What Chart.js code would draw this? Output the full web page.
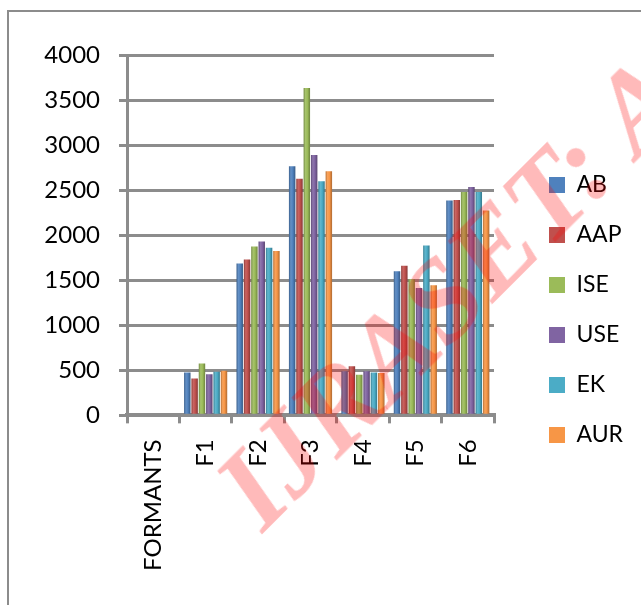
<!DOCTYPE html>
<html>
<head>
<meta charset="utf-8">
<script src="https://cdn.jsdelivr.net/npm/chart.js@4.4.1/dist/chart.umd.min.js"></script>
<style>
  html, body { margin: 0; padding: 0; background: #fff; overflow: hidden; }
  #wrap { position: relative; width: 641px; height: 605px; overflow: hidden; }
  #frame { position: absolute; left: 7px; top: 10px; width: 800px; height: 800px; border: 2px solid #8c8c8c; box-sizing: border-box; }
  #chart { position: absolute; left: 0; top: 0; }
  #mark {
    position: absolute; left: 262px; top: 436px;
    font: italic bold 117px/117px "Liberation Serif", serif;
    color: rgba(255, 0, 0, 0.27);
    transform: rotate(-45deg); transform-origin: 0 97px;
    white-space: nowrap; pointer-events: none;
  }
</style>
</head>
<body>
<div id="wrap">
  <div id="frame"></div>
  <canvas id="chart" width="641" height="605"></canvas>
  <div id="mark">IJRASET: All Rights</div>
</div>
<script>
// formant values (Hz); FORMANTS column is empty
const categories = ["FORMANTS", "F1", "F2", "F3", "F4", "F5", "F6"];
const AB  = [0, 475, 1685, 2765, 490, 1600, 2385];
const AAP = [0, 410, 1730, 2625, 545, 1660, 2390];
const ISE = [0, 575, 1875, 3635, 450, 1510, 2480];
const USE = [0, 455, 1930, 2890, 490, 1415, 2535];
const EK  = [0, 485, 1860, 2600, 475, 1885, 2480];
const AUR = [0, 495, 1825, 2710, 470, 1445, 2275];
const yTicks = [0, 500, 1000, 1500, 2000, 2500, 3000, 3500, 4000];

const names = ["AB", "AAP", "ISE", "USE", "EK", "AUR"];
const values = [AB, AAP, ISE, USE, EK, AUR];
const colors = ["#4f81bd", "#c0504d", "#9bbb59", "#8064a2", "#4bacc6", "#f79646"];

const font = "Lato, 'Open Sans', sans-serif";
const CAT_PCT = 0.84, BAR_PCT = 0.88;

function shade(hex, f) {
  const n = parseInt(hex.slice(1), 16);
  const ch = [(n >> 16) & 255, (n >> 8) & 255, n & 255].map((c) =>
    Math.round(f < 0 ? c * (1 + f) : c + (255 - c) * f)
  );
  return `rgb(${ch.join(",")})`;
}

// cylinder-ish shading, computed from the x scale so the bars stay library-placed
function barFill(color) {
  return (ctx) => {
    const xs = ctx.chart.scales.x;
    if (!xs || !xs.width || ctx.type !== "data") return color;
    const n = ctx.chart.data.datasets.length;
    const cat = xs.width / categories.length;
    const slot = (cat * CAT_PCT) / n;
    const cx = xs.getPixelForValue(ctx.dataIndex) - (cat * CAT_PCT) / 2 + slot * (ctx.datasetIndex + 0.5);
    const w = slot * BAR_PCT;
    const g = ctx.chart.ctx.createLinearGradient(cx - w / 2, 0, cx + w / 2, 0);
    g.addColorStop(0, shade(color, -0.25));
    g.addColorStop(0.3, shade(color, 0.12));
    g.addColorStop(0.6, color);
    g.addColorStop(1, shade(color, -0.3));
    return g;
  };
}

// keep the plot area at the reference width and push the legend to its column
const legendPlace = {
  id: "legendPlace",
  beforeLayout(chart) {
    const lg = chart.legend;
    if (lg && !lg._fixed) {
      const fit = lg.fit.bind(lg);
      lg.fit = function () { fit(); this.width = 147; };
      lg._fixed = true;
    }
  },
  afterLayout(chart) {
    const lg = chart.legend;
    lg.left += 28;
    lg.right += 28;
    lg.top -= 11;
    lg.bottom -= 11;
  },
};

new Chart(document.getElementById("chart").getContext("2d"), {
  type: "bar",
  data: {
    labels: categories,
    datasets: names.map((name, i) => ({
      label: name,
      data: values[i],
      backgroundColor: barFill(colors[i]),
      borderWidth: 0,
      categoryPercentage: CAT_PCT,
      barPercentage: BAR_PCT,
    })),
  },
  plugins: [legendPlace],
  options: {
    responsive: false,
    animation: false,
    devicePixelRatio: 1,
    layout: { padding: { left: 0, top: 55, right: 0, bottom: 18 } },
    plugins: {
      tooltip: { enabled: false },
      legend: {
        position: "right",
        labels: {
          color: "#000",
          font: { family: font, size: 23 },
          boxWidth: 16,
          boxHeight: 16,
          padding: 27,
          generateLabels: (chart) =>
            names.map((name, i) => ({
              text: name,
              fillStyle: colors[i],
              strokeStyle: colors[i],
              lineWidth: 0,
              datasetIndex: i,
            })),
        },
      },
    },
    scales: {
      y: {
        min: 0,
        max: 4000,
        afterFit: (scale) => { scale.width = 127; },
        afterBuildTicks: (scale) => { scale.ticks = yTicks.map((v) => ({ value: v })); },
        ticks: { color: "#000", font: { family: font, size: 24 }, padding: 19, callback: (v) => String(v) },
        grid: { color: "#8c8c8c", lineWidth: 3, tickLength: 8, tickColor: "#8c8c8c" },
        border: { color: "#8c8c8c", width: 3 },
      },
      x: {
        ticks: {
          color: "#000",
          font: { family: font, size: 24 },
          minRotation: 90,
          maxRotation: 90,
          padding: 16,
        },
        grid: { display: true, drawOnChartArea: false, offset: true, color: "#8c8c8c", lineWidth: 3, tickLength: 8 },
        border: { color: "#8c8c8c", width: 4 },
      },
    },
  },
});
</script>
</body>
</html>
